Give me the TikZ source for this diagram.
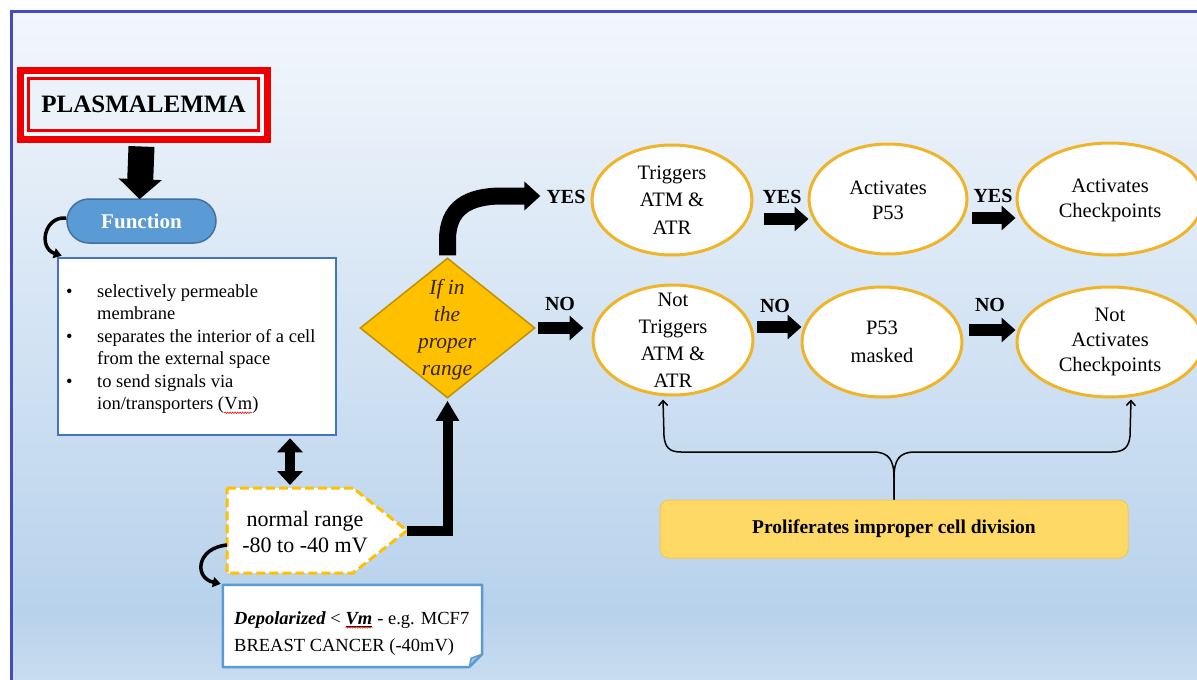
\documentclass[tikz,border=0pt]{standalone}
\usepackage{fontspec}
\setmainfont{Liberation Serif}
\usetikzlibrary{arrows.meta,shapes.geometric,calc,decorations.pathmorphing}
\definecolor{bgtop}{RGB}{243,247,252}
\definecolor{bgmid}{RGB}{184,210,236}
\definecolor{bgbot}{RGB}{200,220,240}
\definecolor{frameblue}{RGB}{66,76,190}
\definecolor{pred}{RGB}{238,0,0}
\definecolor{funcfill}{RGB}{91,155,213}
\definecolor{funcdraw}{RGB}{65,113,156}
\definecolor{boxblue}{RGB}{68,114,196}
\definecolor{depblue}{RGB}{91,155,213}
\definecolor{dashgold}{RGB}{255,192,0}
\definecolor{ellgold}{RGB}{240,180,40}
\definecolor{diafill}{RGB}{255,192,0}
\definecolor{diadraw}{RGB}{191,144,0}
\definecolor{diatext}{RGB}{50,38,0}
\definecolor{prolfill}{RGB}{255,217,102}
\definecolor{proldraw}{RGB}{244,200,80}
\definecolor{foldblue}{RGB}{157,195,230}
\definecolor{plasmain}{RGB}{236,242,249}
\newcommand{\spellwave}[1]{\tikz[baseline=(w.base),x=1pt,y=1pt]{\node[inner sep=0pt,outer sep=0pt](w){#1};\draw[red,line width=0.6pt,decorate,decoration={snake,amplitude=0.7pt,segment length=2.5pt}] ([yshift=-3pt]w.base west) -- ([yshift=-3pt]w.base east);}}
\begin{document}
\begin{tikzpicture}[x=1pt,y=-1pt,
  ell/.style={ellipse, draw=ellgold, line width=3pt, fill=white, inner sep=0pt},
  etxt/.style={align=center, inner sep=0pt, font=\fontsize{20.5}{26}\selectfont},
  lbl/.style={inner sep=0pt, font=\fontsize{20}{24}\selectfont\bfseries},
  bigarrow/.style={draw=black, line width=12pt, -{Triangle[length=14pt,width=24pt]}},
  curvarrow/.style={draw=black, line width=3.5pt, -{Triangle[length=8pt,width=10pt]}},
  bracearrow/.style={draw=black, line width=1.5pt, -{Straight Barb[length=5pt,width=9pt]}}
]
\useasboundingbox (0,0) rectangle (1197,680);
% background
\fill[white] (0,0) rectangle (1197,680);
\shade[top color=bgtop, bottom color=bgmid] (11,11) rectangle (1197,612);
\shade[top color=bgmid, bottom color=bgbot] (11,611) rectangle (1197,680);
\draw[frameblue, line width=3pt] (10,11.5) -- (1197,11.5);
\draw[frameblue, line width=3.5pt] (11.5,10) -- (11.5,680);

% Plasmalemma
\node[draw=pred, line width=3pt, fill=plasmain, minimum width=230pt, minimum height=52pt,
  inner sep=0pt, font=\fontsize{25}{28}\selectfont\bfseries] (plasma) at (143.5,104.5) {PLASMALEMMA};
\draw[white, line width=2pt] ($(plasma.north west)+(-2.5,-2.5)$) rectangle ($(plasma.south east)+(2.5,2.5)$);
\draw[pred, line width=7pt] ($(plasma.north west)+(-7,-7)$) rectangle ($(plasma.south east)+(7,7)$);

% Function pill
\node[draw=funcdraw, line width=1.5pt, fill=funcfill, rounded corners=22pt, minimum width=149pt,
  minimum height=44pt, inner sep=0pt, text=white, font=\fontsize{21}{24}\selectfont\bfseries] (func) at (141.5,221) {Function};
\draw[draw=black, line width=26pt, -{Triangle[length=20pt,width=42pt]}] ($(plasma.south)+(-2,14.5)$) -- ($(func.north)+(-2,1)$);

% bullet box
\node[draw=boxblue, line width=2.5pt, fill=white, minimum width=278pt, minimum height=177pt, inner sep=0pt] (fbox) at (197,346.5) {};
\node[anchor=west, inner sep=0pt, font=\fontsize{18.5}{22.5}\selectfont] (ftext) at (66,349) {%
\begin{tabular}{@{}p{31pt}@{}l@{}}
\textbullet & selectively permeable\\
 & membrane\\
\textbullet & separates the interior of a cell\\
 & from the external space\\
\textbullet & to send signals via\\
 & ion/transporters (\spellwave{Vm})
\end{tabular}};
\draw[curvarrow] ($(func.west)+(0,-3)$) .. controls (44,216) and (38,248) .. ($(fbox.north west)+(5,-1)$);

% pentagon (normal range)
\coordinate (pnw) at (227,488);
\coordinate (pne) at (353,488);
\coordinate (ptip) at (407,530.5);
\coordinate (pse) at (353,573);
\coordinate (psw) at (227,573);
\coordinate (ptop) at (290,488);
\coordinate (pleft) at (227,545);
\fill[white] (pnw) -- (pne) -- (ptip) -- (pse) -- (psw) -- cycle;
\draw[dashgold, line width=3pt, dash pattern=on 9pt off 4pt] (pnw) -- (pne) -- (ptip) -- (pse) -- (psw) -- cycle;
\node[align=center, inner sep=0pt, font=\fontsize{22}{26}\selectfont] (nr) at (305,532) {normal range\\-80 to -40 mV};
\draw[draw=black, line width=10pt, {Triangle[length=14pt,width=25pt]}-{Triangle[length=14pt,width=25pt]}]
  (fbox.south -| ptop) ++(0,2) -- ($(ptop)+(0,-3)$);

% depolarized box
\node[minimum width=259pt, minimum height=82pt, inner sep=0pt] (dep) at (352.5,626) {};
\fill[white] (dep.north west) -- (dep.north east) -- ($(dep.south east)+(0,-13)$) -- ($(dep.south east)+(-13,0)$) -- (dep.south west) -- cycle;
\fill[foldblue] ($(dep.south east)+(0,-13)$) -- ($(dep.south east)+(-11,-9)$) -- ($(dep.south east)+(-13,0)$) -- cycle;
\draw[depblue, line width=2.5pt, line join=round] (dep.north west) -- (dep.north east) -- ($(dep.south east)+(0,-13)$) -- ($(dep.south east)+(-13,0)$) -- (dep.south west) -- cycle;
\draw[depblue, line width=1.5pt, line join=round] ($(dep.south east)+(0,-13)$) -- ($(dep.south east)+(-11,-9)$) -- ($(dep.south east)+(-13,0)$);
\node[anchor=west, align=left, inner sep=0pt, font=\fontsize{18.5}{27}\selectfont] (dtext) at (234,633.5)
 {{\bfseries\itshape Depolarized} {<} \spellwave{\underline{\bfseries\itshape Vm}} - e.g. MCF7\\BREAST CANCER (-40mV)};
\draw[curvarrow] (pleft) .. controls (196,548) and (194,578) .. ($(dep.north west)+(-2,-1)$);

% diamond
\node[diamond, draw=diadraw, fill=diafill, line width=1.5pt, minimum width=175pt, minimum height=140pt, inner sep=0pt] (dia) at (447.5,328) {};
\node[align=center, inner sep=0pt, text=diatext, font=\fontsize{21.5}{27}\selectfont\itshape] (diatxt) at (447,330) {If in\\the\\proper\\range};
\draw[draw=black, line width=10pt, line join=miter, -{Triangle[length=20pt,width=22pt]}] (ptip) -| ($(dia.south)+(0,2)$);

% labels
\node[lbl] (yes1) at (566,197) {YES};
\node[lbl] (yes2) at (782,197) {YES};
\node[lbl] (yes3) at (993,196) {YES};
\node[lbl] (no1) at (560,304) {NO};
\node[lbl] (no2) at (775,306) {NO};
\node[lbl] (no3) at (990,305) {NO};

% ellipses top
\node[ell, minimum width=160pt, minimum height=110pt] (e1) at (672,200) {};
\node[etxt, font=\fontsize{20.5}{27.5}\selectfont] (t1) at (e1.center) {Triggers\\ATM \&\\ATR};
\node[ell, minimum width=158pt, minimum height=110pt] (e2) at (888,199) {};
\node[etxt, font=\fontsize{20.5}{25}\selectfont] (t2) at ($(e2.center)+(0,1)$) {Activates\\P53};
\node[ell, minimum width=186pt, minimum height=112pt] (e3) at (1110,199) {};
\node[etxt, font=\fontsize{20.5}{25}\selectfont] (t3) at ($(e3.center)+(0,1)$) {Activates\\Checkpoints};

% ellipses bottom
\node[ell, minimum width=160pt, minimum height=110pt] (e1n) at (673,340) {};
\node[etxt, font=\fontsize{20.5}{27}\selectfont] (t4) at ($(e1n.center)+(0,0)$) {Not\\Triggers\\ATM \&\\ATR};
\node[ell, minimum width=160pt, minimum height=110pt] (e2n) at (882,342) {};
\node[etxt, font=\fontsize{20.5}{28}\selectfont] (t5) at ($(e2n.center)+(0,0)$) {P53\\masked};
\node[ell, minimum width=186pt, minimum height=110pt] (e3n) at (1110,342) {};
\node[etxt, font=\fontsize{20.5}{25}\selectfont] (t6) at ($(e3n.center)+(0,0)$) {Not\\Activates\\Checkpoints};

% YES curved arrow
\draw[draw=black, line width=17pt, -{Triangle[length=16pt,width=28pt]}]
  ($(dia.north)+(0,-2)$) -- (447.5,240) .. controls (447.5,208) and (468,196) .. (502,196) -- ($(yes1.west)+(-6,-1)$);
% block arrows
\draw[bigarrow] ($(e1.east)+(10,19)$) -- ($(e2.west)+(1,20)$);
\draw[bigarrow] ($(e2.east)+(3,19)$) -- ($(e3.west)+(0,19)$);
\draw[bigarrow] ($(dia.east)+(2,0)$) -- ($(e1n.west)+(-8,-12)$);
\draw[bigarrow] ($(e1n.east)+(2,-13)$) -- ($(e2n.west)+(1,-15)$);
\draw[bigarrow] ($(e2n.east)+(5,-12)$) -- ($(e3n.west)+(0,-12)$);

% proliferates box and brace
\node[draw=proldraw, line width=1pt, fill=prolfill, rounded corners=9pt, minimum width=468pt, minimum height=58pt,
  inner sep=0pt, font=\fontsize{19.5}{24}\selectfont\bfseries] (prol) at (894,529) {Proliferates improper cell division};
\draw[bracearrow] (prol.north) -- (894,478) .. controls (894,460) and (889,452) .. (873,452) -- (681,452)
  .. controls (669,452) and (665,447) .. (664,436) -- ($(e1n.south)+(-10,3)$);
\draw[bracearrow] (prol.north) -- (894,478) .. controls (894,460) and (899,452) .. (915,452) -- (1112,452)
  .. controls (1124,452) and (1129,447) .. (1130,436) -- ($(e3n.south)+(21,1)$);
\end{tikzpicture}
\end{document}
